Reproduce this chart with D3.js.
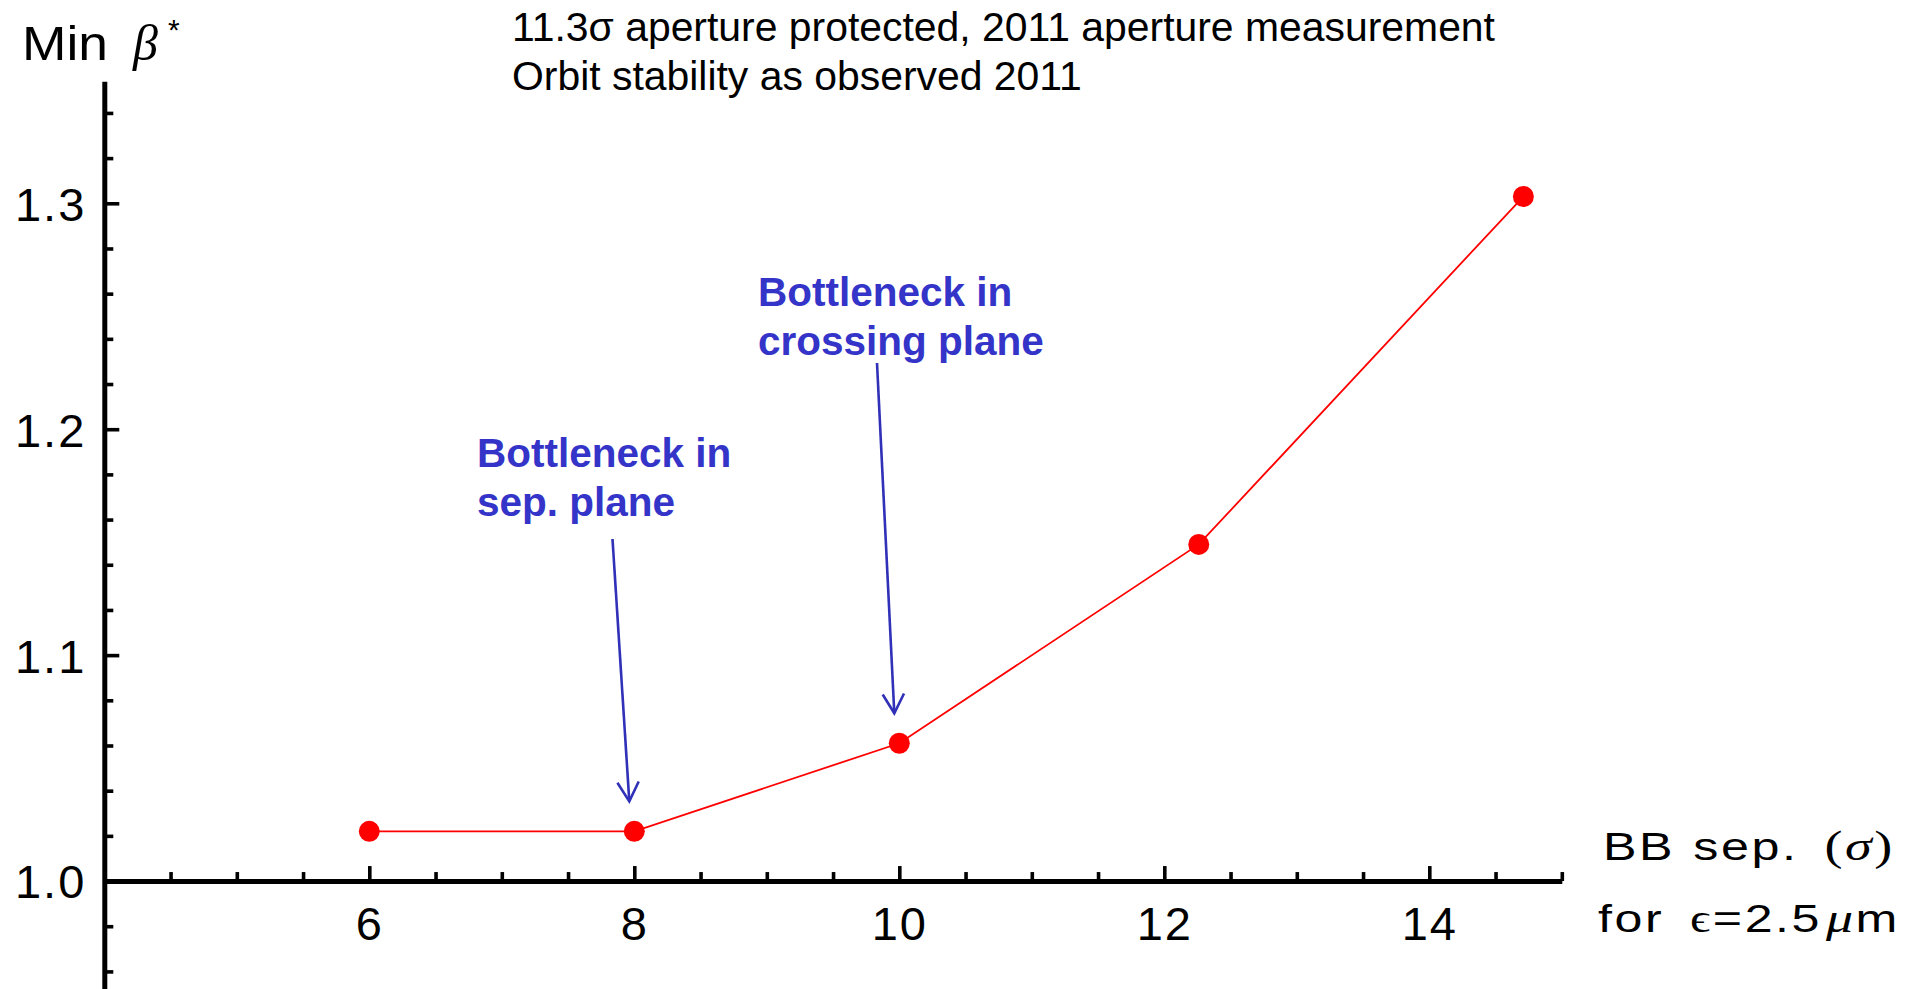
<!DOCTYPE html>
<html>
<head>
<meta charset="utf-8">
<script src="https://cdn.jsdelivr.net/npm/d3@7"></script>
<style>
  html, body { margin: 0; padding: 0; background: #ffffff; }
  svg { display: block; }
  .sans { font-family: "Liberation Sans", Arial, Helvetica, sans-serif; }
  .serif { font-family: "Liberation Serif", "Times New Roman", "DejaVu Serif", serif; }
</style>
</head>
<body>
<svg id="chart" width="1921" height="989"></svg>
<script>
// Minimum beta* versus beam-beam separation (in sigma) for eps = 2.5 um
const bbSeparation = [6, 8, 10, 12.26, 14.71];
const minBetaStar  = [1.022, 1.022, 1.061, 1.149, 1.303];

const xMajorTicks = [6, 8, 10, 12, 14];
const xTickLabels = ["6", "8", "10", "12", "14"];
const xMinorTicks = [4.5, 5, 5.5, 6.5, 7, 7.5, 8.5, 9, 9.5, 10.5, 11, 11.5, 12.5, 13, 13.5, 14.5, 15];

const yMajorTicks = [1.0, 1.1, 1.2, 1.3];
const yTickLabels = ["1.0", "1.1", "1.2", "1.3"];
const yMinorTicks = [0.96, 0.98, 1.02, 1.04, 1.06, 1.08, 1.12, 1.14, 1.16, 1.18,
                     1.22, 1.24, 1.26, 1.28, 1.32, 1.34];

const titleLines = ["11.3\u03c3 aperture protected, 2011 aperture measurement",
                    "Orbit stability as observed 2011"];

// annotation text blocks and the data point each arrow points at
const annotationLines   = [["Bottleneck in", "sep. plane"], ["Bottleneck in", "crossing plane"]];
const annotationTargets = [1, 2];

const svg = d3.select("#chart");

const x = d3.scaleLinear().domain([4, 15]).range([104.3, 1561.8]);
const y = d3.scaleLinear().domain([0.95, 1.354]).range([994, 81.3]);

const AXIS_W = 5;
const TICK_W = 3.6;

// stretch a text element horizontally so that it spans [left, left + width]
function fitWidth(sel, left, width) {
  const bb = sel.node().getBBox();
  const k = width / bb.width;
  sel.attr("transform", `translate(${left},0) scale(${k},1) translate(${-bb.x},0)`);
}

// ---- x axis (origin at y = 1.0) ----
const xAxisY = y(1.0);
const gx = svg.append("g").attr("transform", `translate(0,${xAxisY})`);
gx.append("g")
  .call(d3.axisBottom(x).tickValues(xMinorTicks).tickSizeInner(-9).tickSizeOuter(0).tickFormat(""))
  .call(g => g.select(".domain").remove())
  .call(g => g.selectAll(".tick line").attr("stroke", "#000").attr("stroke-width", TICK_W));
gx.append("g")
  .call(d3.axisBottom(x).tickValues(xMajorTicks).tickSizeInner(-15).tickSizeOuter(0)
          .tickPadding(58).tickFormat((d, i) => xTickLabels[i]))
  .call(g => g.select(".domain").attr("stroke", "#000").attr("stroke-width", AXIS_W))
  .call(g => g.selectAll(".tick line").attr("stroke", "#000").attr("stroke-width", TICK_W))
  .call(g => g.selectAll(".tick text")
      .attr("class", "sans").attr("dy", null).attr("y", 59)
      .attr("font-size", 47).attr("fill", "#000").attr("letter-spacing", 2));

// ---- y axis (origin at x = 4) ----
const yAxisX = x(4);
const gy = svg.append("g").attr("transform", `translate(${yAxisX},0)`);
gy.append("g")
  .call(d3.axisLeft(y).tickValues(yMinorTicks).tickSizeInner(-9).tickSizeOuter(0).tickFormat(""))
  .call(g => g.select(".domain").remove())
  .call(g => g.selectAll(".tick line").attr("stroke", "#000").attr("stroke-width", TICK_W));
gy.append("g")
  .call(d3.axisLeft(y).tickValues(yMajorTicks).tickSizeInner(-15).tickSizeOuter(0)
          .tickPadding(17).tickFormat((d, i) => yTickLabels[i]))
  .call(g => g.select(".domain").attr("stroke", "#000").attr("stroke-width", AXIS_W))
  .call(g => g.selectAll(".tick line").attr("stroke", "#000").attr("stroke-width", TICK_W))
  .call(g => g.selectAll(".tick text")
      .attr("class", "sans").attr("x", -18).attr("dy", "0.36em")
      .attr("font-size", 47).attr("fill", "#000").attr("letter-spacing", 2));

// ---- data line and points ----
const pts = bbSeparation.map((v, i) => [v, minBetaStar[i]]);
svg.append("path")
  .datum(pts)
  .attr("fill", "none")
  .attr("stroke", "#ff0000")
  .attr("stroke-width", 1.8)
  .attr("d", d3.line().x(d => x(d[0])).y(d => y(d[1])));
svg.append("g").selectAll("circle")
  .data(pts)
  .join("circle")
  .attr("cx", d => x(d[0]))
  .attr("cy", d => y(d[1]))
  .attr("r", 10.5)
  .attr("fill", "#ff0000");

// ---- title lines ----
svg.append("g").selectAll("text")
  .data(titleLines)
  .join("text")
  .attr("class", "sans")
  .attr("x", 512)
  .attr("y", (d, i) => 41 + i * 49)
  .attr("font-size", 40.9)
  .attr("fill", "#000")
  .text(d => d);

// ---- y axis label: Min beta* ----
const ylMin = svg.append("text").attr("class", "sans").attr("y", 60)
  .attr("font-size", 48).attr("fill", "#000").text("Min");
fitWidth(ylMin, 22, 86);
svg.append("text").attr("class", "serif").attr("x", 133).attr("y", 60)
  .attr("font-size", 50).attr("font-style", "italic").attr("fill", "#000").text("\u03b2");
svg.append("text").attr("class", "sans").attr("x", 168).attr("y", 40)
  .attr("font-size", 30).attr("fill", "#000").text("*");

// ---- x axis label ----
const xl1 = svg.append("text").attr("class", "sans").attr("y", 860).attr("font-size", 39)
  .attr("fill", "#000").attr("letter-spacing", 2);
xl1.append("tspan").text("BB");
xl1.append("tspan").attr("dx", 14).text("sep.");
xl1.append("tspan").attr("class", "serif").attr("dx", 20).attr("font-size", 42).text("(");
xl1.append("tspan").attr("class", "serif").attr("font-style", "italic").attr("font-size", 42).text("\u03c3");
xl1.append("tspan").attr("class", "serif").attr("font-size", 42).text(")");
fitWidth(xl1, 1603, 292);

const xl2 = svg.append("text").attr("class", "sans").attr("y", 932).attr("font-size", 39)
  .attr("fill", "#000").attr("letter-spacing", 2);
xl2.append("tspan").text("for");
xl2.append("tspan").attr("class", "serif").attr("dx", 20).text("\u03f5");
xl2.append("tspan").text("=2.5");
xl2.append("tspan").attr("class", "serif").attr("font-style", "italic").attr("dx", 3).attr("font-size", 42).text("\u03bc");
xl2.append("tspan").text("m");
fitWidth(xl2, 1598, 302);

// ---- annotations with arrows ----
const BLUE_TEXT = "#3434c8";
const BLUE_LINE = "#3030b8";
const annTextPos = [[477, 467], [758, 306]];
const annArrowStart = [[612.5, 539], [877, 363]];

annotationLines.forEach((lines, k) => {
  const t = svg.append("text").attr("class", "sans")
    .attr("font-size", 40.5).attr("font-weight", "bold").attr("fill", BLUE_TEXT);
  lines.forEach((ln, j) => {
    t.append("tspan").attr("x", annTextPos[k][0]).attr("y", annTextPos[k][1] + j * 49).text(ln);
  });

  const p = pts[annotationTargets[k]];
  const tip = [x(p[0]) - 5, y(p[1]) - 30];
  const start = annArrowStart[k];
  svg.append("line")
    .attr("x1", start[0]).attr("y1", start[1])
    .attr("x2", tip[0]).attr("y2", tip[1])
    .attr("stroke", BLUE_LINE).attr("stroke-width", 2.6);

  const ang = Math.atan2(tip[1] - start[1], tip[0] - start[0]);
  const len = 22, spread = 29 * Math.PI / 180;
  const w1 = [tip[0] - len * Math.cos(ang - spread), tip[1] - len * Math.sin(ang - spread)];
  const w2 = [tip[0] - len * Math.cos(ang + spread), tip[1] - len * Math.sin(ang + spread)];
  svg.append("polyline")
    .attr("points", [w1, tip, w2].map(q => q.join(",")).join(" "))
    .attr("fill", "none").attr("stroke", BLUE_LINE).attr("stroke-width", 2.6)
    .attr("stroke-linejoin", "miter");
});
</script>
</body>
</html>
